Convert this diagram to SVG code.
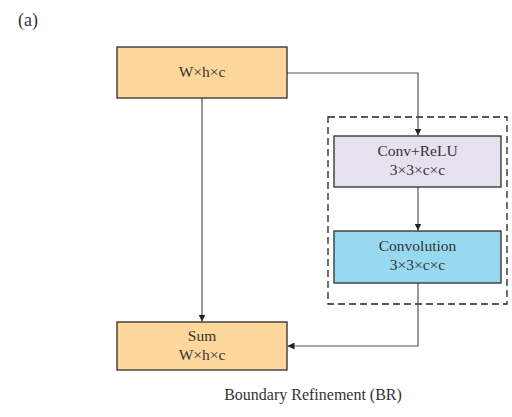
<svg xmlns="http://www.w3.org/2000/svg" width="512" height="417" viewBox="0 0 512 417">
<style>
.box{stroke:#2b2b2b;stroke-width:1.3}
.t{font-family:"Liberation Serif",serif;font-size:15.5px;fill:#333;text-anchor:middle}
.c{fill:none;stroke:#555;stroke-width:1.2}
</style>
<defs>
<marker id="ah" viewBox="0 0 10 10" refX="10" refY="5" markerWidth="7" markerHeight="7" markerUnits="userSpaceOnUse" orient="auto">
<path d="M0,0 L10,5 L0,10 z" fill="#222"/>
</marker>
</defs>
<rect width="512" height="417" fill="#fff"/>
<text x="18" y="26" style="font-family:'Liberation Serif',serif;font-size:18px;fill:#333">(a)</text>
<rect x="328" y="117" width="179" height="187" fill="none" stroke="#222" stroke-width="1.3" stroke-dasharray="7,4"/>
<g id="connectors">
<path class="c" d="M287,73 H418 V135.5" marker-end="url(#ah)"/>
<path class="c" d="M202,98 V321.5" marker-end="url(#ah)"/>
<path class="c" d="M418,187 V230.5" marker-end="url(#ah)"/>
<path class="c" d="M418,283 V346 H287.5" marker-end="url(#ah)"/>
</g>
<g id="input">
<rect class="box" x="117" y="47" width="170" height="51" fill="#FFD79C"/>
<text class="t" x="202" y="77">W×h×c</text>
</g>
<g id="convrelu">
<rect class="box" x="334" y="136" width="167" height="51" fill="#E7E0EE"/>
<text class="t" x="417.5" y="156">Conv+ReLU</text>
<text class="t" x="417.5" y="175">3×3×c×c</text>
</g>
<g id="convolution">
<rect class="box" x="334" y="231" width="167" height="52" fill="#98D9F1"/>
<text class="t" x="417.5" y="251">Convolution</text>
<text class="t" x="417.5" y="270">3×3×c×c</text>
</g>
<g id="sum">
<rect class="box" x="117" y="322" width="170" height="48" fill="#FFD79C"/>
<text class="t" x="202" y="341">Sum</text>
<text class="t" x="202" y="360">W×h×c</text>
</g>
<text class="t" x="313" y="400" style="font-size:16px">Boundary Refinement (BR)</text>
</svg>
